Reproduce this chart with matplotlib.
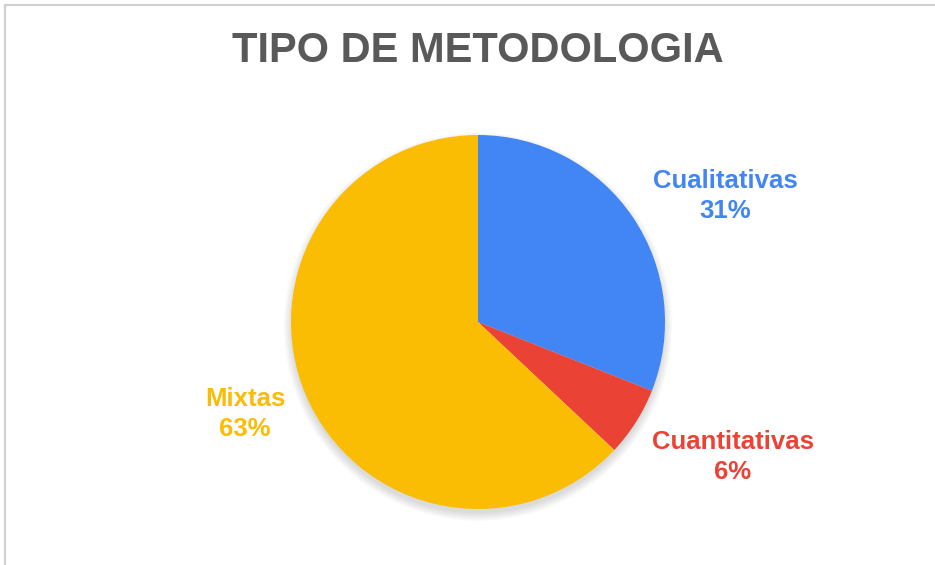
import matplotlib
matplotlib.use("Agg")
import matplotlib.pyplot as plt
from matplotlib.patches import Circle
from matplotlib.lines import Line2D

categories = ["Cualitativas", "Cuantitativas", "Mixtas"]
values = [31, 6, 63]
colors = ["#4285F4", "#EA4335", "#FBBC04"]
title = "TIPO DE METODOLOGIA"

W, H = 935, 565
fig = plt.figure(figsize=(W / 100, H / 100), dpi=100)
fig.patch.set_facecolor("white")

# frame lines
fig.add_artist(Line2D([5 / W, 5 / W], [0, 1 - 5 / H], color="#d0d0d0", lw=1.5))
fig.add_artist(Line2D([5 / W, 1], [1 - 5 / H, 1 - 5 / H], color="#d0d0d0", lw=1.5))

cx, cy, r = 478, 322, 187
ax = fig.add_axes([(cx - r * 1.1) / W, (H - cy - r * 1.1) / H, 2.2 * r / W, 2.2 * r / H])
ax.set_aspect("equal")
ax.axis("off")

# soft shadow (mostly below the pie)
for i in range(6):
    ax.add_patch(Circle((0.0, -0.025), 0.99 + 0.008 * (i + 1), color="black",
                        alpha=0.022, lw=0, zorder=0))

ax.pie(values, colors=colors, startangle=90, counterclock=False, radius=1.0,
       wedgeprops=dict(linewidth=0), frame=False)
ax.set_xlim(-1.1, 1.1)
ax.set_ylim(-1.1, 1.1)

fig.text(478 / W, 1 - 51 / H, title, ha="center", va="center", fontsize=30,
         fontweight="bold", color="#595959", family="Liberation Sans")

label_pos = [(725, 196), (733, 457), (245, 414)]
for cat, v, col, (x, y) in zip(categories, values, colors, label_pos):
    fig.text(x / W, 1 - y / H, f"{cat}\n{v}%", ha="center", va="center", fontsize=18.5,
             fontweight="bold", color=col, family="Liberation Sans", linespacing=1.3)

fig.savefig("out.png", dpi=100)
